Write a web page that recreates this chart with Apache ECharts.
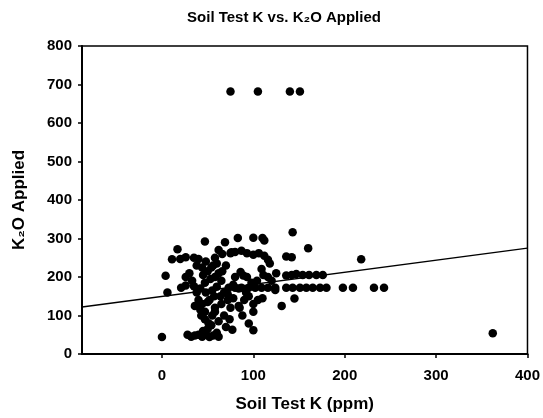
<!DOCTYPE html>
<html>
<head>
<meta charset="utf-8">
<script src="https://cdn.jsdelivr.net/npm/echarts@6/dist/echarts.min.js"></script>
<style>
  html,body{margin:0;padding:0;background:#fff;}
  #chart{width:543px;height:418px;}
</style>
</head>
<body>
<div id="chart"></div>
<script>
// soil test K (ppm) and K2O applied
var soilK = [
  0,4,6,11,17,20,26,21,26,26,35,35,40,30,33,38,40,
  28,32,36,40,44,48,52,56,60,62,45,50,54,47,51,43,47,55,58,44,52,57,48,42,55,60,47,53,45,58,50,62,44,56,48,58,66,
  47,69,83,110,62,70,65,68,72,65,75,68,74,62,70,77,95,100,
  80,78,84,86,89,93,
  73,80,87,95,102,109,116,124,136,143,151,158,165,173,180,198,209,232,243,
  136,142,147,154,161,169,176,
  109,111,116,131,145,143,160,218,136,142,
  75,80,87,93,100,106,112,116,118,124,
  90,95,100,105,85,88,100,110,92,98,104,120,125,112,100,76,
  36,42,50,58,64,72,78,84,66,54,60,38,
  75,105,140,151,362
];
var k2o = [
  44,203,160,246,272,247,251,172,200,178,176,250,247,210,190,160,140,
  50,45,48,50,45,52,44,48,55,45,60,65,75,90,80,100,110,100,120,130,140,150,160,170,165,175,185,195,205,200,215,210,225,230,240,250,260,
  292,290,301,301,270,230,190,160,140,130,120,100,90,85,70,63,79,62,
  200,180,170,213,204,200,
  172,172,172,172,172,172,172,172,172,172,172,172,172,172,172,172,172,172,172,
  204,205,208,205,205,205,205,
  221,205,200,125,144,316,275,246,253,251,
  262,265,268,262,258,262,255,245,235,166,
  140,150,130,140,120,100,110,145,160,185,190,190,210,295,302,264,
  125,115,135,110,150,155,145,125,215,225,235,230,
  682,682,682,682,54
];
// linear trend line, end points at the axis limits
var trendX = [-87.5, 400];
var trendY = [122, 275];
var xTicks = [0, 100, 200, 300, 400];

var pts = [];
for (var i = 0; i < soilK.length; i++) {
  pts.push([soilK[i], k2o[i]]);
}
var trend = [];
for (var j = 0; j < trendX.length; j++) {
  trend.push([trendX[j], trendY[j]]);
}

var font = '"Liberation Sans", Arial, sans-serif';
var chart = echarts.init(document.getElementById('chart'), null, {renderer: 'canvas'});
chart.setOption({
  animation: false,
  backgroundColor: '#fff',
  title: {
    text: 'Soil Test K vs. K\u2082O Applied',
    left: 279,
    top: 5,
    textAlign: 'center',
    textStyle: {fontFamily: font, fontSize: 15, fontWeight: 'bold', color: '#000'}
  },
  grid: {
    left: 82, right: 12, top: 46, bottom: 60,
    show: true, borderColor: '#000', borderWidth: 1.5, backgroundColor: 'transparent'
  },
  xAxis: {
    type: 'value',
    min: -87.5,
    max: 400,
    name: 'Soil Test K (ppm)',
    nameLocation: 'middle',
    nameGap: 42,
    nameTextStyle: {fontFamily: font, fontSize: 17, fontWeight: 'bold', color: '#000'},
    axisLine: {onZero: false, lineStyle: {color: '#000', width: 2}},
    axisTick: {show: true, length: 4, customValues: xTicks, lineStyle: {color: '#000', width: 1.5}},
    axisLabel: {customValues: xTicks, margin: 14, fontFamily: font, fontSize: 15, fontWeight: 'bold', color: '#000'},
    splitLine: {show: false}
  },
  yAxis: {
    type: 'value',
    min: 0,
    max: 800,
    interval: 100,
    name: 'K\u2082O Applied',
    nameLocation: 'middle',
    nameGap: 54,
    nameTextStyle: {fontFamily: font, fontSize: 17, fontWeight: 'bold', color: '#000'},
    axisLine: {show: true, onZero: false, lineStyle: {color: '#000', width: 2}},
    axisTick: {show: true, length: 4, lineStyle: {color: '#000', width: 1.5}},
    axisLabel: {margin: 10, fontFamily: font, fontSize: 15, fontWeight: 'bold', color: '#000'},
    splitLine: {show: false}
  },
  series: [
    {
      type: 'scatter',
      data: pts,
      symbol: 'circle',
      symbolSize: 8.5,
      itemStyle: {color: '#000', opacity: 1}
    },
    {
      type: 'line',
      data: trend,
      symbol: 'none',
      lineStyle: {color: '#000', width: 1.5},
      z: 3
    }
  ]
});
</script>
</body>
</html>
